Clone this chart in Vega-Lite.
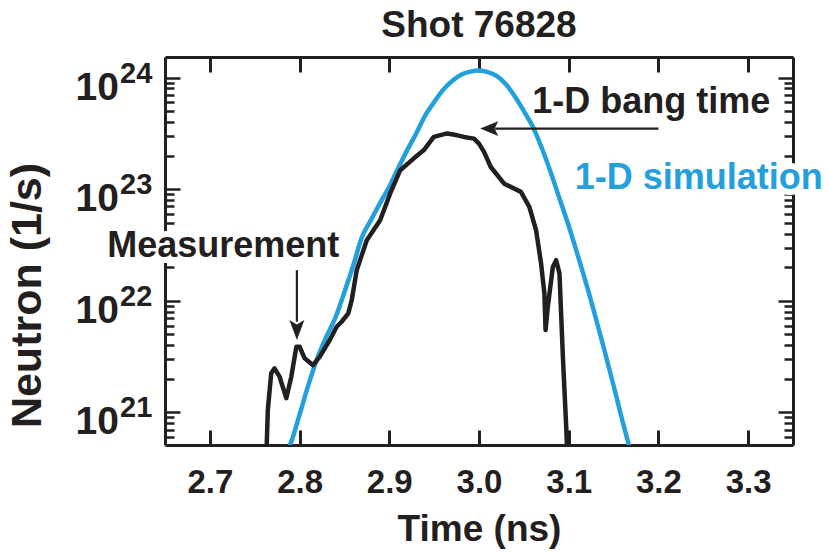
{
  "$schema": "https://vega.github.io/schema/vega-lite/v6.json",
  "width": 628,
  "height": 388,
  "autosize": {"type": "none"},
  "padding": {"left": 165, "top": 57, "right": 35, "bottom": 110},
  "background": "white",
  "config": {"view": {"stroke": null}, "font": "Liberation Sans"},
  "title": {"text": "Shot 76828", "font": "Liberation Sans", "fontSize": 37, "fontWeight": "bold", "color": "#231f20", "anchor": "middle", "frame": "group", "offset": 11},
  "datasets": {
    "meas": [
      {"t": 2.7625, "n": 3e20}, {"t": 2.7646, "n": 1.05e21}, {"t": 2.7684, "n": 2.24e21}, {"t": 2.7721, "n": 2.48e21},
      {"t": 2.7777, "n": 2.09e21}, {"t": 2.7852, "n": 1.34e21}, {"t": 2.7908, "n": 2.09e21}, {"t": 2.7964, "n": 3.87e21},
      {"t": 2.8001, "n": 3.87e21}, {"t": 2.8057, "n": 3.05e21}, {"t": 2.815, "n": 2.65e21}, {"t": 2.8225, "n": 3.16e21},
      {"t": 2.8337, "n": 4.45e21}, {"t": 2.8413, "n": 5.85e21}, {"t": 2.8469, "n": 6.49e21}, {"t": 2.8543, "n": 7.71e21},
      {"t": 2.8581, "n": 1.01e22}, {"t": 2.8637, "n": 1.88e22}, {"t": 2.8749, "n": 3.49e22}, {"t": 2.8898, "n": 5.27e22},
      {"t": 2.901, "n": 9.16e22}, {"t": 2.9122, "n": 1.48e23}, {"t": 2.9271, "n": 1.88e23}, {"t": 2.9383, "n": 2.23e23},
      {"t": 2.9496, "n": 2.94e23}, {"t": 2.9646, "n": 3.16e23}, {"t": 2.9758, "n": 3.04e23}, {"t": 2.9832, "n": 2.94e23},
      {"t": 2.9944, "n": 2.84e23}, {"t": 3.0, "n": 2.56e23}, {"t": 3.0056, "n": 2.16e23}, {"t": 3.0131, "n": 1.58e23},
      {"t": 3.028, "n": 1.12e23}, {"t": 3.0467, "n": 9.46e22}, {"t": 3.0561, "n": 6.95e22}, {"t": 3.0636, "n": 4.3e22},
      {"t": 3.0692, "n": 2.16e22}, {"t": 3.0729, "n": 1.16e22}, {"t": 3.0742, "n": 5.47e21}, {"t": 3.0767, "n": 8.83e21},
      {"t": 3.0823, "n": 2.01e22}, {"t": 3.086, "n": 2.31e22}, {"t": 3.0897, "n": 1.76e22}, {"t": 3.0935, "n": 3.16e21},
      {"t": 3.0972, "n": 7.45e20}, {"t": 3.0991, "n": 3e20}
    ],
    "sim": [
      {"t": 2.78, "n": 3.55e20}, {"t": 2.79, "n": 5.25e20}, {"t": 2.8, "n": 9.55e20}, {"t": 2.81, "n": 1.78e21},
      {"t": 2.82, "n": 3.09e21}, {"t": 2.83, "n": 4.79e21}, {"t": 2.84, "n": 7.08e21}, {"t": 2.85, "n": 1.2e22},
      {"t": 2.86, "n": 2.09e22}, {"t": 2.87, "n": 3.8e22}, {"t": 2.88, "n": 5.37e22}, {"t": 2.89, "n": 7.59e22},
      {"t": 2.9, "n": 1.05e23}, {"t": 2.91, "n": 1.55e23}, {"t": 2.92, "n": 2.24e23}, {"t": 2.93, "n": 3.16e23},
      {"t": 2.94, "n": 4.57e23}, {"t": 2.95, "n": 6.03e23}, {"t": 2.96, "n": 7.76e23}, {"t": 2.97, "n": 9.33e23},
      {"t": 2.98, "n": 1.06e24}, {"t": 2.99, "n": 1.13e24}, {"t": 3.0, "n": 1.16e24}, {"t": 3.01, "n": 1.12e24},
      {"t": 3.02, "n": 1.03e24}, {"t": 3.03, "n": 8.71e23}, {"t": 3.04, "n": 6.76e23}, {"t": 3.05, "n": 5.01e23},
      {"t": 3.06, "n": 3.63e23}, {"t": 3.07, "n": 2.34e23}, {"t": 3.08, "n": 1.41e23}, {"t": 3.09, "n": 8.13e22},
      {"t": 3.1, "n": 4.68e22}, {"t": 3.11, "n": 2.57e22}, {"t": 3.12, "n": 1.38e22}, {"t": 3.13, "n": 7.08e21},
      {"t": 3.14, "n": 3.55e21}, {"t": 3.15, "n": 1.74e21}, {"t": 3.16, "n": 8.32e20}, {"t": 3.17, "n": 4.17e20}
    ],
    "ylab": [
      {"n": 1e21, "e": "21"}, {"n": 1e22, "e": "22"}, {"n": 1e23, "e": "23"}, {"n": 1e24, "e": "24"}
    ],
    "shafts": [
      {"t": 3.018, "t2": 3.2, "n": 3.49e23, "n2": 3.49e23},
      {"t": 2.797, "t2": 2.797, "n": 1.88e22, "n2": 6.5e21}
    ]
  },
  "resolve": {"axis": {"x": "independent", "y": "independent"}},
  "layer": [
    {
      "data": {"name": "sim"},
      "mark": {"type": "line", "color": "#23a0dc", "strokeWidth": 4.5, "interpolate": "catmull-rom", "clip": true},
      "encoding": {
        "x": {"field": "t", "type": "quantitative", "scale": {"domain": [2.65, 3.35], "nice": false, "zero": false},
          "axis": {"orient": "top", "values": [2.7, 2.8, 2.9, 3.0, 3.1, 3.2, 3.3], "labels": false, "title": null, "grid": false, "tickSize": -15, "tickWidth": 3, "tickColor": "#231f20", "domainColor": "#231f20", "domainWidth": 3, "zindex": 0}},
        "y": {"field": "n", "type": "quantitative", "scale": {"type": "log", "domain": [5.1e20, 1.53e24], "nice": false},
          "axis": {"orient": "right", "values": [6e20, 7e20, 8e20, 9e20, 1e21, 2e21, 3e21, 4e21, 5e21, 6e21, 7e21, 8e21, 9e21, 1e22, 2e22, 3e22, 4e22, 5e22, 6e22, 7e22, 8e22, 9e22, 1e23, 2e23, 3e23, 4e23, 5e23, 6e23, 7e23, 8e23, 9e23, 1e24],
            "labels": false, "title": null, "grid": false,
            "tickSize": {"condition": {"test": "abs(log(datum.value)/LN10 - round(log(datum.value)/LN10)) < 0.01", "value": -15}, "value": -9},
            "tickWidth": 2.5, "tickColor": "#231f20", "domainColor": "#231f20", "domainWidth": 3, "zindex": 0}}
      }
    },
    {
      "data": {"name": "meas"},
      "mark": {"type": "line", "color": "#231f20", "strokeWidth": 4.5, "strokeJoin": "round", "clip": true},
      "encoding": {
        "x": {"field": "t", "type": "quantitative", "scale": {"domain": [2.65, 3.35], "nice": false, "zero": false},
          "axis": {"orient": "bottom", "values": [2.7, 2.8, 2.9, 3.0, 3.1, 3.2, 3.3], "format": ".1f", "grid": false, "tickSize": -15, "tickWidth": 3, "tickColor": "#231f20", "domainColor": "#231f20", "domainWidth": 3,
            "labelFont": "Liberation Sans", "labelFontSize": 33, "labelFontWeight": "bold", "labelColor": "#231f20", "labelPadding": 36, "labelFlush": false, "labelOverlap": false,
            "title": "Time (ns)", "titleFont": "Liberation Sans", "titleFontSize": 37, "titleFontWeight": "bold", "titleColor": "#231f20", "titlePadding": 12, "zindex": 0}},
        "y": {"field": "n", "type": "quantitative", "scale": {"type": "log", "domain": [5.1e20, 1.53e24], "nice": false},
          "axis": {"orient": "left", "values": [6e20, 7e20, 8e20, 9e20, 1e21, 2e21, 3e21, 4e21, 5e21, 6e21, 7e21, 8e21, 9e21, 1e22, 2e22, 3e22, 4e22, 5e22, 6e22, 7e22, 8e22, 9e22, 1e23, 2e23, 3e23, 4e23, 5e23, 6e23, 7e23, 8e23, 9e23, 1e24],
            "labels": false, "grid": false,
            "tickSize": {"condition": {"test": "abs(log(datum.value)/LN10 - round(log(datum.value)/LN10)) < 0.01", "value": -15}, "value": -9},
            "tickWidth": 2.5, "tickColor": "#231f20", "domainColor": "#231f20", "domainWidth": 3,
            "title": "Neutron (1/s)", "titleFont": "Liberation Sans", "titleFontSize": 43, "titleFontWeight": "bold", "titleColor": "#231f20",
            "titleAngle": -90, "titleBaseline": "bottom", "titleAlign": "center", "titleX": -116, "titleY": 238, "zindex": 0}}
      }
    },
    {
      "mark": {"type": "rule", "color": "#231f20", "strokeWidth": 5, "strokeDash": [14, 7]},
      "encoding": {"x": {"datum": 3.0, "type": "quantitative", "axis": null}}
    },
    {
      "data": {"name": "ylab"},
      "mark": {"type": "text", "text": "10", "font": "Liberation Sans", "fontSize": 39, "fontWeight": "bold", "color": "#231f20", "align": "right", "baseline": "alphabetic", "dx": -46, "dy": 22},
      "encoding": {
        "x": {"datum": 2.65, "type": "quantitative", "axis": null},
        "y": {"field": "n", "type": "quantitative", "axis": null}
      }
    },
    {
      "data": {"name": "ylab"},
      "mark": {"type": "text", "font": "Liberation Sans", "fontSize": 29, "fontWeight": "bold", "color": "#231f20", "align": "left", "baseline": "alphabetic", "dx": -45, "dy": 5},
      "encoding": {
        "x": {"datum": 2.65, "type": "quantitative", "axis": null},
        "y": {"field": "n", "type": "quantitative", "axis": null},
        "text": {"field": "e"}
      }
    },
    {
      "data": {"values": [
        {"label": "Measurement", "t": 2.7149, "n": 2.46e22},
        {"label": "1-D bang time", "t": 3.192, "n": 4.79e23},
        {"label": "1-D simulation", "t": 3.245, "n": 1.01e23}
      ]},
      "mark": {"type": "text", "font": "Liberation Sans", "fontSize": 36, "fontWeight": "bold", "color": "white", "stroke": "white", "strokeWidth": 12, "strokeJoin": "round", "align": "center", "baseline": "alphabetic"},
      "encoding": {
        "x": {"field": "t", "type": "quantitative", "axis": null},
        "y": {"field": "n", "type": "quantitative", "axis": null},
        "text": {"field": "label"}
      }
    },
    {
      "data": {"values": [
        {"label": "Measurement", "t": 2.7149, "n": 2.46e22},
        {"label": "1-D bang time", "t": 3.192, "n": 4.79e23}
      ]},
      "mark": {"type": "text", "font": "Liberation Sans", "fontSize": 36, "fontWeight": "bold", "color": "#231f20", "align": "center", "baseline": "alphabetic"},
      "encoding": {
        "x": {"field": "t", "type": "quantitative", "axis": null},
        "y": {"field": "n", "type": "quantitative", "axis": null},
        "text": {"field": "label"}
      }
    },
    {
      "data": {"values": [
        {"label": "1-D simulation", "t": 3.245, "n": 1.01e23}
      ]},
      "mark": {"type": "text", "font": "Liberation Sans", "fontSize": 36, "fontWeight": "bold", "color": "#23a0dc", "align": "center", "baseline": "alphabetic"},
      "encoding": {
        "x": {"field": "t", "type": "quantitative", "axis": null},
        "y": {"field": "n", "type": "quantitative", "axis": null},
        "text": {"field": "label"}
      }
    },
    {
      "data": {"name": "shafts"},
      "mark": {"type": "rule", "color": "#231f20", "strokeWidth": 2.2},
      "encoding": {
        "x": {"field": "t", "type": "quantitative", "axis": null},
        "x2": {"field": "t2"},
        "y": {"field": "n", "type": "quantitative", "axis": null},
        "y2": {"field": "n2"}
      }
    },
    {
      "data": {"values": [{"t": 3.0114, "n": 3.49e23}]},
      "mark": {"type": "point", "shape": "M -1 0 L 1 -0.83 L 0.6 0 L 1 0.83 Z", "size": 324, "filled": true, "color": "#231f20", "opacity": 1, "strokeWidth": 0},
      "encoding": {
        "x": {"field": "t", "type": "quantitative", "axis": null},
        "y": {"field": "n", "type": "quantitative", "axis": null}
      }
    },
    {
      "data": {"values": [{"t": 2.797, "n": 5.47e21}]},
      "mark": {"type": "point", "shape": "M 0 1 L -0.75 -1 L 0 -0.55 L 0.75 -1 Z", "size": 400, "filled": true, "color": "#231f20", "opacity": 1, "strokeWidth": 0},
      "encoding": {
        "x": {"field": "t", "type": "quantitative", "axis": null},
        "y": {"field": "n", "type": "quantitative", "axis": null}
      }
    }
  ]
}
